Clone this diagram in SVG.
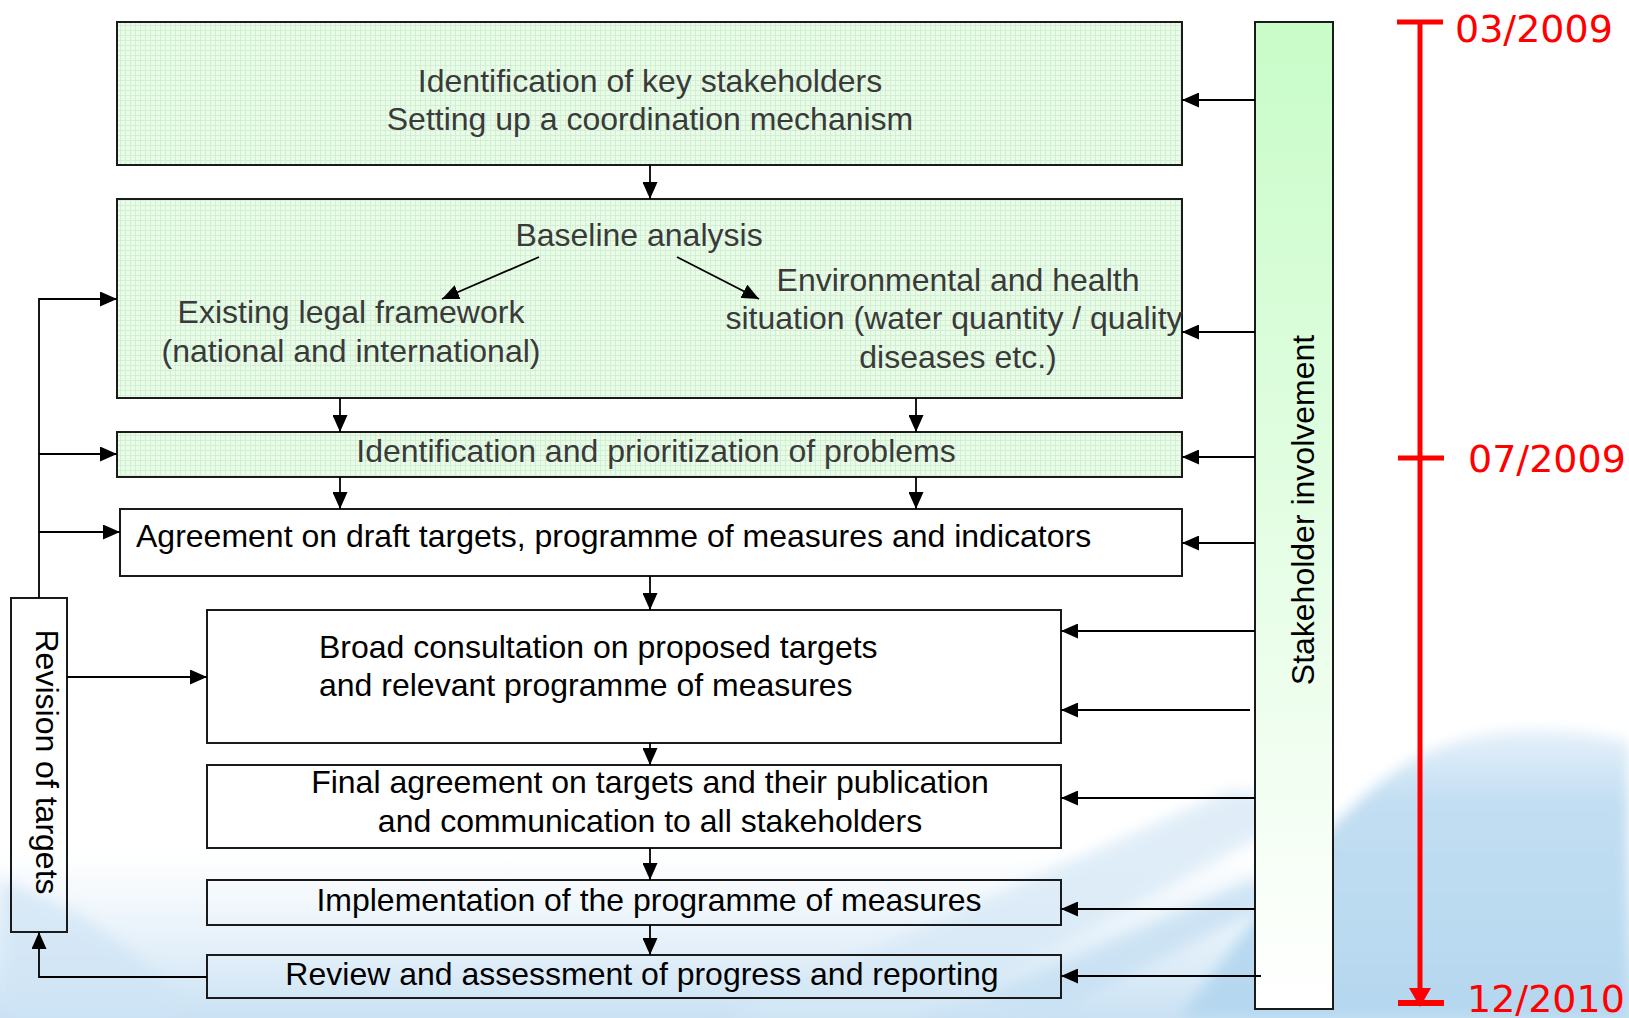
<svg xmlns="http://www.w3.org/2000/svg" width="1629" height="1018" viewBox="0 0 1629 1018">
<defs>
  <pattern id="grid" width="5" height="5" patternUnits="userSpaceOnUse">
    <rect width="5" height="5" fill="#e8fce8"/>
    <path d="M0,0.5 H5 M0.5,0 V5" stroke="#d3efd3" stroke-width="1"/>
  </pattern>
  <linearGradient id="barGrad" x1="0" y1="0" x2="0" y2="1">
    <stop offset="0" stop-color="#c8fcc8"/>
    <stop offset="1" stop-color="#ffffff"/>
  </linearGradient>
  <linearGradient id="bandGrad" x1="0" y1="0" x2="0" y2="1">
    <stop offset="0" stop-color="#d6e8f6" stop-opacity="0"/>
    <stop offset="0.6" stop-color="#d0e5f5" stop-opacity="0.6"/>
    <stop offset="1" stop-color="#c4def2" stop-opacity="0.9"/>
  </linearGradient>
  <linearGradient id="hillGrad" x1="0" y1="0" x2="0" y2="1">
    <stop offset="0" stop-color="#e6f1fa"/>
    <stop offset="0.25" stop-color="#c2def2"/>
    <stop offset="1" stop-color="#b4d7ef"/>
  </linearGradient>
  <filter id="blur" x="-10%" y="-10%" width="120%" height="120%">
    <feGaussianBlur stdDeviation="7"/>
  </filter>
  <marker id="ah" markerUnits="userSpaceOnUse" markerWidth="17" markerHeight="15" refX="17" refY="7.5" orient="auto">
    <path d="M0,0 L17,7.5 L0,15 Z" fill="#000"/>
  </marker>
  <style>
    .box { stroke: #1a1a1a; stroke-width: 2; }
    .green { fill: url(#grid); }
    .clear { fill: none; }
    .t { font-family: "Liberation Sans", Arial, sans-serif; font-size: 32px; fill: #000; }
    .tg { font-family: "Liberation Sans", Arial, sans-serif; font-size: 32px; fill: #3a3a3a; }
    .mid { text-anchor: middle; }
    .conn path { fill: none; stroke: #000; stroke-width: 1.8; marker-end: url(#ah); }
    .date { font-family: "DejaVu Sans", Verdana, sans-serif; font-size: 38px; fill: #ff0000; }
  </style>
</defs>

<rect width="1629" height="1018" fill="#ffffff"/>

<g id="background">
  <rect x="0" y="850" width="1629" height="168" fill="url(#bandGrad)"/>
  <path d="M0,880 C60,900 120,930 200,1018 L0,1018 Z" fill="#cfe4f5" opacity="0.7" filter="url(#blur)"/>
  <path d="M1180,1018 C1260,910 1330,815 1400,768 C1460,728 1545,720 1629,742 L1629,1018 Z" fill="url(#hillGrad)" filter="url(#blur)"/>
  <path d="M720,1018 L1230,790 L1330,800 L920,1018 Z" fill="#d6e8f6" opacity="0.75" filter="url(#blur)"/>
  <path d="M980,1000 L1250,880 L1300,890 L1060,1010 Z" fill="#c6e0f3" opacity="0.8" filter="url(#blur)"/>
</g>

<g id="n-key-stakeholders">
  <rect class="box green" x="117" y="22" width="1065" height="143"/>
  <text class="tg mid" x="650" y="92">Identification of key stakeholders</text>
  <text class="tg mid" x="650" y="130">Setting up a coordination mechanism</text>
</g>

<g id="n-baseline">
  <rect class="box green" x="117" y="199" width="1065" height="199"/>
  <text class="tg mid" x="639" y="246">Baseline analysis</text>
  <text class="tg mid" x="351" y="323">Existing legal framework</text>
  <text class="tg mid" x="351" y="362">(national and international)</text>
  <text class="tg mid" x="958" y="291">Environmental and health</text>
  <text class="tg mid" x="954" y="329">situation (water quantity / quality</text>
  <text class="tg mid" x="958" y="368">diseases etc.)</text>
</g>

<g id="n-problems">
  <rect class="box green" x="117" y="432" width="1065" height="45"/>
  <text class="tg mid" x="656" y="462">Identification and prioritization of problems</text>
</g>

<g id="n-draft-targets">
  <rect class="box clear" x="120" y="509" width="1062" height="67"/>
  <text class="t" x="136" y="547">Agreement on draft targets, programme of measures and indicators</text>
</g>

<g id="n-consultation">
  <rect class="box clear" x="207" y="610" width="854" height="133"/>
  <text class="t" x="319" y="658">Broad consultation on proposed targets</text>
  <text class="t" x="319" y="696">and relevant programme of measures</text>
</g>

<g id="n-final">
  <rect class="box clear" x="207" y="765" width="854" height="83"/>
  <text class="t mid" x="650" y="793">Final agreement on targets and their publication</text>
  <text class="t mid" x="650" y="832">and communication to all stakeholders</text>
</g>

<g id="n-implementation">
  <rect class="box clear" x="207" y="880" width="854" height="45"/>
  <text class="t mid" x="649" y="911">Implementation of the programme of measures</text>
</g>

<g id="n-review">
  <rect class="box clear" x="207" y="955" width="854" height="43"/>
  <text class="t mid" x="642" y="985">Review and assessment of progress and reporting</text>
</g>

<g id="n-revision">
  <rect class="box clear" x="11" y="598" width="56" height="334"/>
  <text class="t mid" transform="translate(36,762) rotate(90)" x="0" y="0">Revision of targets</text>
</g>

<g id="n-stakeholder">
  <rect class="box" fill="url(#barGrad)" x="1255" y="22" width="78" height="987"/>
  <text class="t mid" transform="translate(1314,510) rotate(-90)" x="0" y="0">Stakeholder involvement</text>
</g>

<g id="connectors" class="conn">
  <path d="M650,165 L650,199"/>
  <path d="M340,398 L340,432"/>
  <path d="M916,398 L916,432"/>
  <path d="M340,477 L340,509"/>
  <path d="M916,477 L916,509"/>
  <path d="M650,576 L650,610"/>
  <path d="M650,743 L650,765"/>
  <path d="M650,848 L650,880"/>
  <path d="M650,925 L650,955"/>
  <path d="M539,257 L442,299"/>
  <path d="M677,257 L759,299"/>
  <path d="M39,598 L39,299 L117,299"/>
  <path d="M39,454 L117,454"/>
  <path d="M39,532 L120,532"/>
  <path d="M67,677 L207,677"/>
  <path d="M207,977 L39,977 L39,932"/>
  <path d="M1255,100 L1182,100"/>
  <path d="M1255,332 L1182,332"/>
  <path d="M1255,457 L1182,457"/>
  <path d="M1255,543 L1182,543"/>
  <path d="M1255,631 L1061,631"/>
  <path d="M1250,710 L1061,710"/>
  <path d="M1255,798 L1061,798"/>
  <path d="M1255,909 L1061,909"/>
  <path d="M1261,976 L1061,976"/>
</g>

<g id="timeline">
  <line x1="1420" y1="22" x2="1420" y2="992" stroke="#ff0000" stroke-width="5"/>
  <polygon points="1409,988 1431,988 1420,1007" fill="#ff0000"/>
  <line x1="1397" y1="22" x2="1443" y2="22" stroke="#ff0000" stroke-width="5"/>
  <line x1="1398" y1="458" x2="1444" y2="458" stroke="#ff0000" stroke-width="5"/>
  <line x1="1398" y1="1003" x2="1444" y2="1003" stroke="#ff0000" stroke-width="6"/>
  <text class="date" x="1455" y="42">03/2009</text>
  <text class="date" x="1468" y="472">07/2009</text>
  <text class="date" x="1467" y="1012">12/2010</text>
</g>
</svg>
